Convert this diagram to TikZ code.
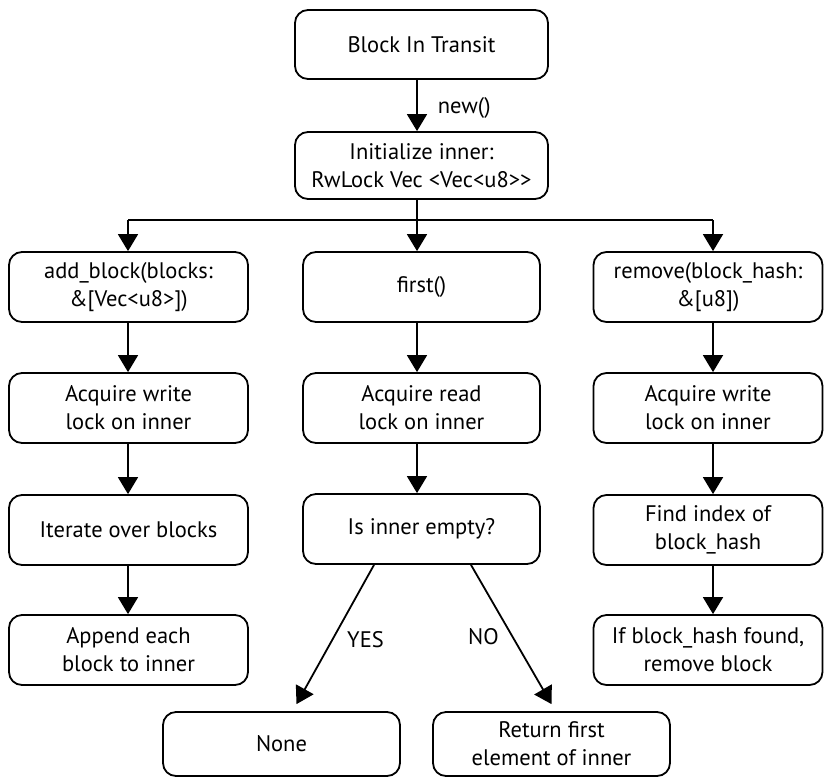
\documentclass[tikz,border=0pt]{standalone}
\usepackage{fontspec}
\setmainfont{PT Sans}
\usetikzlibrary{arrows.meta,calc}

\begin{document}
\begin{tikzpicture}[x=1pt,y=-1pt,
  box/.style={draw, line width=1.8pt, rounded corners=13pt, align=center,
    inner sep=0pt, font=\fontsize{22.5}{28}\selectfont},
  arr/.style={line width=1.8pt, -{Triangle[width=20pt,length=17pt]}},
  link/.style={line width=1.8pt},
  lbl/.style={font=\fontsize{22.5}{26}\selectfont, inner sep=0pt}]
  \useasboundingbox (0,0) rectangle (824,780);

  % header
  \node[box, minimum width=253pt, minimum height=69pt] (transit) at (421.5,44.5) {Block In Transit};
  \node[box, minimum width=253pt, minimum height=67pt] (init) at (421.5,165.5) {Initialize inner:\\RwLock Vec <Vec<u8>{}>};

  % add_block column
  \node[box, minimum width=239pt, minimum height=70pt] (add)  at (128.5,287) {add\_block(blocks:\\\&[Vec<u8>])};
  \node[box, minimum width=239pt, minimum height=70pt] (addW) at (128.5,408) {Acquire write\\lock on inner};
  \node[box, minimum width=239pt, minimum height=70pt] (iter) at (128.5,530) {Iterate over blocks};
  \node[box, minimum width=239pt, minimum height=70pt] (app)  at (128.5,650) {Append each\\block to inner};

  % first column
  \node[box, minimum width=237pt, minimum height=70pt] (first) at (421.5,287) {first()};
  \node[box, minimum width=237pt, minimum height=70pt] (readL) at (421.5,408) {Acquire read\\lock on inner};
  \node[box, minimum width=237pt, minimum height=70pt] (dec)   at (421.5,529) {Is inner empty?};
  \node[box, minimum width=237pt, minimum height=64pt] (none)  at (281.5,744) {None};
  \node[box, minimum width=237pt, minimum height=64pt] (ret)   at (551.5,744) {Return first\\element of inner};

  % remove column
  \node[box, minimum width=229pt, minimum height=70pt] (rem)  at (708,287) {remove(block\_hash:\\\&[u8])};
  \node[box, minimum width=229pt, minimum height=70pt] (remW) at (708,408) {Acquire write\\lock on inner};
  \node[box, minimum width=229pt, minimum height=70pt] (find) at (708,530) {Find index of\\block\_hash};
  \node[box, minimum width=229pt, minimum height=70pt] (ifF)  at (708,650) {If block\_hash found,\\remove block};

  % column axes and the branching bar
  \coordinate (cL) at (128,220);
  \coordinate (cM) at (417,220);
  \coordinate (cR) at (713,220);

  \draw[arr] (transit.south -| cM) -- node[lbl, anchor=west, xshift=20pt, yshift=-2pt] (newlbl) {new()} (init.north -| cM);
  \draw[link] (init.south -| cM) -- (cM);
  \draw[link] (cL) -- (cR);
  \draw[arr] (cL) -- (add.north -| cL);
  \draw[arr] (cM) -- (first.north -| cM);
  \draw[arr] (cR) -- (rem.north -| cR);

  \draw[arr] (add.south -| cL) -- (addW.north -| cL);
  \draw[arr] (addW.south -| cL) -- (iter.north -| cL);
  \draw[arr] (iter.south -| cL) -- (app.north -| cL);

  \draw[arr] (first.south -| cM) -- (readL.north -| cM);
  \draw[arr] (readL.south -| cM) -- (dec.north -| cM);

  \draw[arr] (rem.south -| cR) -- (remW.north -| cR);
  \draw[arr] (remW.south -| cR) -- (find.north -| cR);
  \draw[arr] (find.south -| cR) -- (ifF.north -| cR);

  % decision branches
  \draw[arr] ([xshift=-47.5pt]dec.south) -- ([xshift=15pt,yshift=7pt]none.north);
  \draw[arr] ([xshift=49.5pt]dec.south) -- ([xshift=0pt,yshift=7pt]ret.north);
  \node[lbl] (yes) at (365.5,640) {YES};
  \node[lbl] (no) at (483.5,637) {NO};
\end{tikzpicture}
\end{document}
